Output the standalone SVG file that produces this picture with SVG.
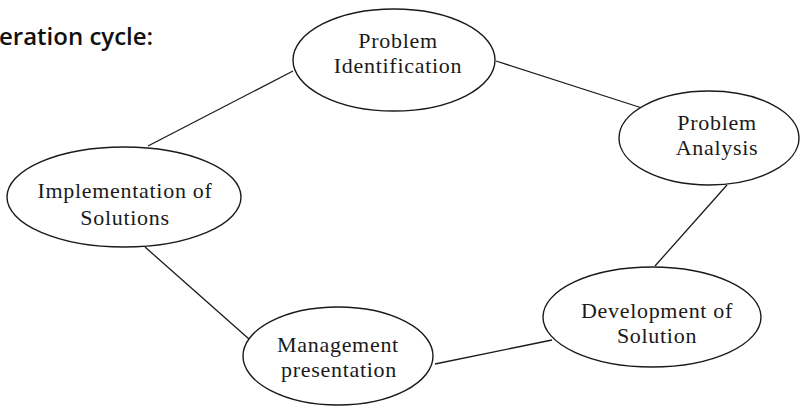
<svg xmlns="http://www.w3.org/2000/svg" width="800" height="407" viewBox="0 0 800 407">
<style>
.node ellipse{fill:#fff;stroke:#1a1a1a;stroke-width:1.4}
.node text{font-family:"Liberation Serif","Times New Roman",serif;font-size:22px;fill:#1a1a1a;text-anchor:middle;letter-spacing:0.7px}
.edges line{stroke:#1a1a1a;stroke-width:1.3}
.title{font-family:"Open Sans","Noto Sans",sans-serif;font-size:24px;font-weight:600;fill:#111}
</style>
<rect width="800" height="407" fill="#fff"/>
<text class="title" x="-1" y="45">eration cycle:</text>
<g class="edges">
<line x1="148" y1="146" x2="293" y2="71"/>
<line x1="496" y1="61" x2="642" y2="108"/>
<line x1="727" y1="185" x2="655" y2="266"/>
<line x1="552" y1="340" x2="435" y2="364"/>
<line x1="145" y1="247" x2="249" y2="339"/>
</g>
<g id="problem-identification" class="node">
<ellipse cx="394" cy="60" rx="101" ry="51"/>
<text x="398" y="48">Problem</text>
<text x="398" y="73">Identification</text>
</g>
<g id="problem-analysis" class="node">
<ellipse cx="709" cy="138" rx="90" ry="47"/>
<text x="717" y="130">Problem</text>
<text x="717" y="155">Analysis</text>
</g>
<g id="development-of-solution" class="node">
<ellipse cx="652" cy="317" rx="109" ry="50"/>
<text x="657" y="318">Development of</text>
<text x="657" y="343">Solution</text>
</g>
<g id="management-presentation" class="node">
<ellipse cx="338" cy="356" rx="95" ry="49"/>
<text x="338" y="352">Management</text>
<text x="339" y="377">presentation</text>
</g>
<g id="implementation-of-solutions" class="node">
<ellipse cx="124" cy="197" rx="117" ry="50"/>
<text x="125" y="198">Implementation of</text>
<text x="125" y="225">Solutions</text>
</g>
</svg>
